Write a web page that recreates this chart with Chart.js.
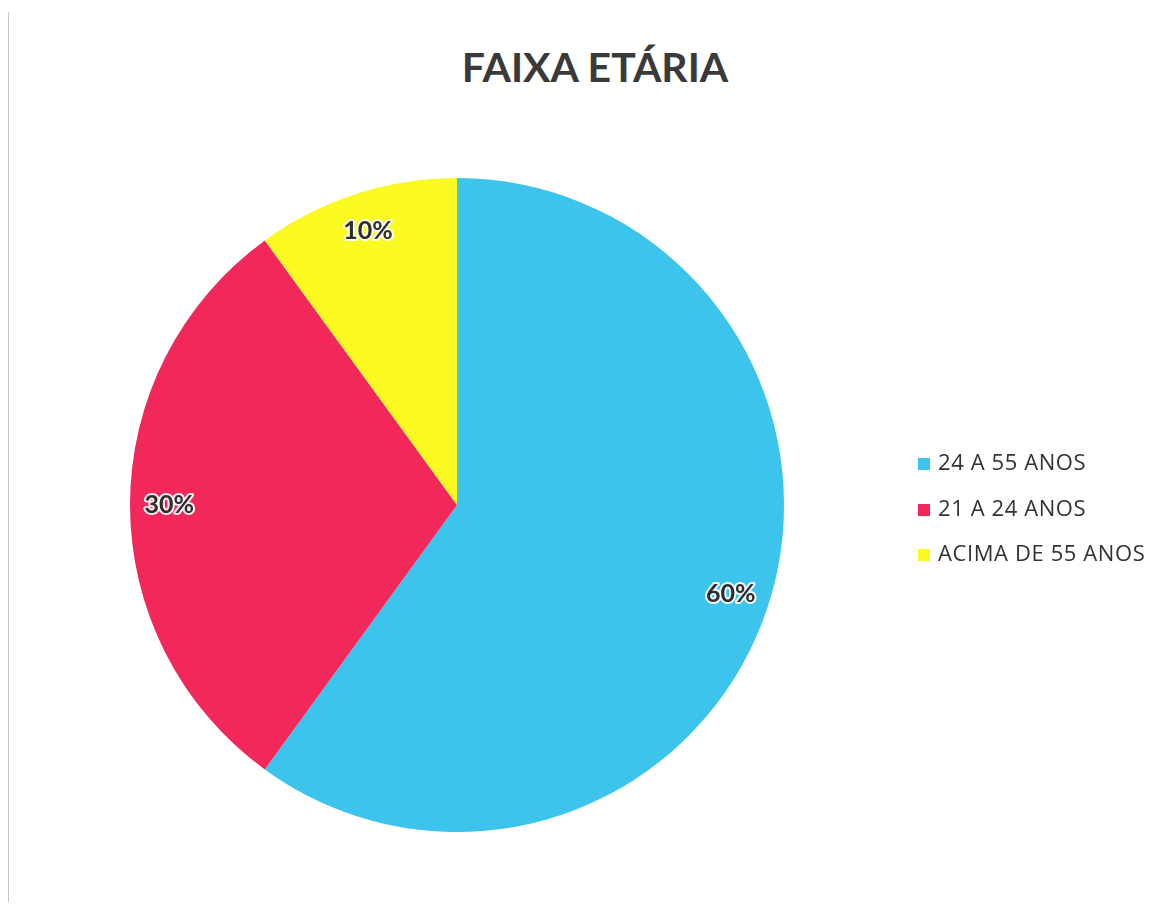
<!DOCTYPE html>
<html>
<head>
<meta charset="utf-8">
<script src="https://cdn.jsdelivr.net/npm/chart.js@4.4.0/dist/chart.umd.min.js"></script>
<style>
  html, body { margin: 0; padding: 0; background: #fff; }
  #wrap { position: relative; width: 1169px; height: 909px; overflow: hidden; }
  #frame { position: absolute; left: 8px; top: 12px; width: 1px; height: 890px; background: #c8c8c8; }
  #title { position: absolute; left: 0; width: 1190px; top: 42px; text-align: center;
    font-family: Lato, "Open Sans", sans-serif; font-weight: bold; font-size: 41px; color: #3a3a3a; }
  #legend { position: absolute; left: 918px; top: 446px; font-family: "Open Sans", Lato, sans-serif;
    font-size: 22px; letter-spacing: 0.6px; color: #333; }
  #legend div { height: 45.5px; display: flex; align-items: flex-start; white-space: nowrap; }
  #legend span.box { display: inline-block; width: 12px; height: 12px; margin: 12px 8px 0 0; flex: none; }
  canvas { position: absolute; left: 0; top: 0; }
</style>
</head>
<body>
<div id="wrap">
  <div id="frame"></div>
  <div id="title">FAIXA ETÁRIA</div>
  <canvas id="myChart" width="1169" height="909"></canvas>
  <div id="legend"></div>
</div>
<script>
const categorias = ['24 A 55 ANOS', '21 A 24 ANOS', 'ACIMA DE 55 ANOS'];
const valores = [60, 30, 10];
const cores = ['#3cc4ec', '#f2275a', '#fafa22'];

document.addEventListener('DOMContentLoaded', () => {
const ctx = document.getElementById('myChart').getContext('2d');

// rótulos de porcentagem dentro das fatias
const rotulos = {
    id: 'rotulos',
    afterDatasetsDraw(chart) {
        const c = chart.ctx;
        const meta = chart.getDatasetMeta(0);
        const total = valores.reduce((a, b) => a + b, 0);
        c.save();
        c.font = 'bold 25px Lato, "Open Sans", sans-serif';
        c.textAlign = 'center';
        c.textBaseline = 'middle';
        meta.data.forEach((arc, i) => {
            const p = arc.getProps(['x', 'y', 'startAngle', 'endAngle', 'outerRadius']);
            const mid = (p.startAngle + p.endAngle) / 2;
            const r = p.outerRadius * 0.88;
            const x = p.x + Math.cos(mid) * r;
            const y = p.y + Math.sin(mid) * r;
            const txt = Math.round(valores[i] / total * 100) + '%';
            c.lineWidth = 4;
            c.strokeStyle = 'rgba(255,255,255,0.9)';
            c.lineJoin = 'round';
            c.strokeText(txt, x, y);
            c.fillStyle = '#2e2e2e';
            c.fillText(txt, x, y);
        });
        c.restore();
    }
};

new Chart(ctx, {
    type: 'pie',
    data: {
        labels: categorias,
        datasets: [{
            data: valores,
            backgroundColor: cores,
            borderWidth: 0
        }]
    },
    options: {
        responsive: false,
        animation: false,
        layout: { padding: { left: 130, right: 385, top: 178, bottom: 77 } },
        plugins: {
            legend: { display: false },
            title: { display: false },
            tooltip: { enabled: false }
        }
    },
    plugins: [rotulos]
});

const legenda = document.getElementById('legend');
categorias.forEach((cat, i) => {
    const item = document.createElement('div');
    item.innerHTML = '<span class="box" style="background:' + cores[i] + '"></span>' + cat;
    legenda.appendChild(item);
});
});
</script>
</body>
</html>
